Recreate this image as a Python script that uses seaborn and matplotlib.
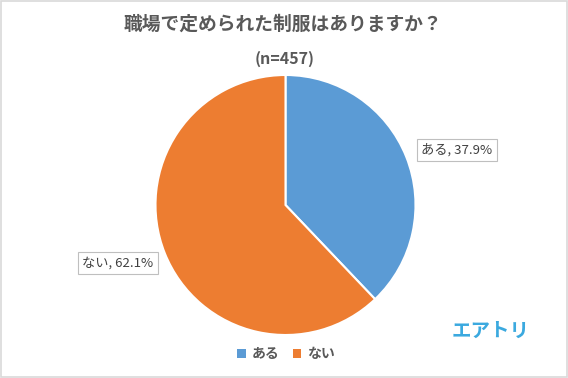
import matplotlib
matplotlib.use("Agg")
import matplotlib.pyplot as plt
import seaborn as sns
from matplotlib.patches import Rectangle, Patch

categories = ["ある", "ない"]
values = [37.9, 62.1]
colors = ["#5B9BD5", "#ED7D31"]
title = "職場で定められた制服はありますか？"
subtitle = "(n=457)"

sns.set_theme(style="white")
plt.rcParams['font.family'] = ['Noto Sans CJK JP', 'DejaVu Sans']

W, H = 568, 378
fig = plt.figure(figsize=(W / 100, H / 100), dpi=100)
fig.patch.set_facecolor("white")

# pie axes: center (285, 205) px, radius 130 px
cx, cy, r = 285.5, 205, 130
ax = fig.add_axes([(cx - r) / W, 1 - (cy + r) / H, 2 * r / W, 2 * r / H])
wedges, _ = ax.pie(values, colors=colors, startangle=90, counterclock=False,
                   wedgeprops=dict(edgecolor="white", linewidth=1.5))
ax.set_aspect("equal")
ax.set_xlim(-1, 1)
ax.set_ylim(-1, 1)
ax.axis("off")

def fx(px):
    return px / W

def fy(py):
    return 1 - py / H

fig.text(fx(283), fy(24), title, ha="center", va="center", fontsize=13.5,
         fontweight="bold", color="#595959")
fig.text(fx(285), fy(59), subtitle, ha="center", va="center", fontsize=11.5,
         fontweight="bold", color="#595959")

box = dict(boxstyle="square,pad=0.35", facecolor="white", edgecolor="#BFBFBF", linewidth=0.8)
label_pos = [(457, 150), (118, 263)]
for cat, v, (lx, ly) in zip(categories, values, label_pos):
    fig.text(fx(lx), fy(ly), f"{cat}, {v}%", ha="center", va="center", fontsize=9.5,
             color="#404040", bbox=box)

# legend
handles = [Patch(facecolor=c, edgecolor="none") for c in colors]
leg = fig.legend(handles, categories, loc="center", bbox_to_anchor=(fx(286), fy(354)), ncol=2,
                 frameon=False, handlelength=0.6, handleheight=0.6,
                 handletextpad=0.4, columnspacing=1.0,
                 prop={'weight': 'bold', 'size': 10})
for t in leg.get_texts():
    t.set_color("#595959")

fig.text(fx(491), fy(331), "エアトリ", ha="center", va="center", fontsize=14,
         fontweight="bold", color="#3BA9DF")

fig.add_artist(Rectangle((0.001, 0.002), 0.997, 0.995, transform=fig.transFigure,
                         fill=False, edgecolor="#D9D9D9", linewidth=1.2))

fig.savefig("out.png", dpi=100, facecolor="white")
